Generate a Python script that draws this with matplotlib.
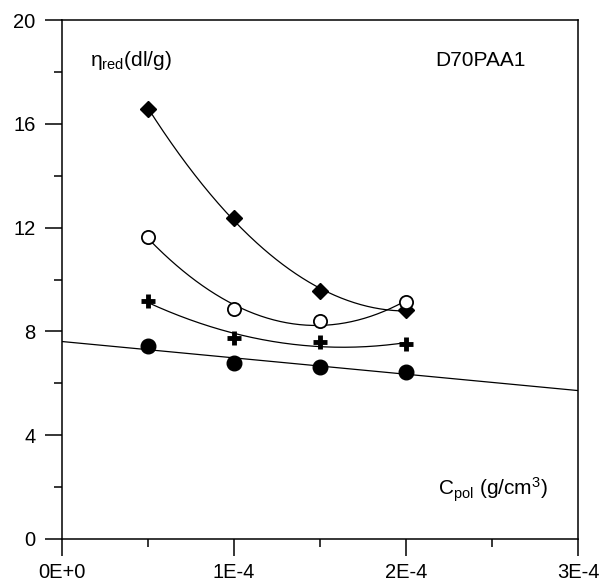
import numpy as np
import matplotlib.pyplot as plt
from matplotlib.ticker import MultipleLocator, FixedLocator

plt.rcParams['font.family'] = ['Liberation Sans', 'DejaVu Sans']

# polymer concentration (g/cm3)
c_pol = np.array([0.5e-4, 1.0e-4, 1.5e-4, 2.0e-4])

# reduced viscosity (dl/g) for the four series
eta_diamond = np.array([16.57, 12.37, 9.56, 8.82])
eta_open = np.array([11.64, 8.86, 8.40, 9.13])
eta_plus = np.array([9.17, 7.75, 7.59, 7.51])
eta_filled = np.array([7.44, 6.78, 6.63, 6.44])

fig = plt.figure(figsize=(6.02, 5.81), dpi=100)
ax = fig.add_axes([62/602, 1-539/581, (578-62)/602, (539-20)/581])

# smooth curves through the upper three series
xs = np.linspace(c_pol[0], c_pol[-1], 200)
for y in (eta_diamond, eta_open, eta_plus):
    p = np.polyfit(c_pol * 1e4, y, 2)
    ax.plot(xs, np.polyval(p, xs * 1e4), color='black', lw=0.9, zorder=2)

# linear fit of the lowest series, extended over whole axis
p = np.polyfit(c_pol * 1e4, eta_filled, 1)
xl = np.array([0, 3e-4])
ax.plot(xl, np.polyval(p, xl * 1e4), color='black', lw=0.9, zorder=2)

ax.plot(c_pol, eta_diamond, 'D', color='black', ms=8.5, zorder=3)
ax.plot(c_pol, eta_open, 'o', mfc='white', mec='black', mew=1.3, ms=9.5, zorder=3)
ax.plot(c_pol, eta_plus, '+', color='black', mew=3.5, ms=10, zorder=3)
ax.plot(c_pol, eta_filled, 'o', color='black', ms=10.5, zorder=3)

ax.set_xlim(0, 3e-4)
ax.set_ylim(0, 20)
ax.xaxis.set_major_locator(FixedLocator([0, 1e-4, 2e-4, 3e-4]))
ax.xaxis.set_minor_locator(FixedLocator([0.5e-4, 1.5e-4, 2.5e-4]))
ax.set_xticklabels(['0E+0', '1E-4', '2E-4', '3E-4'])
ax.yaxis.set_major_locator(MultipleLocator(4))
ax.yaxis.set_minor_locator(MultipleLocator(2))

ax.tick_params(which='major', direction='out', length=12, width=1.1, labelsize=14.5)
ax.tick_params(axis='y', which='major', pad=7)
ax.tick_params(axis='x', which='major', pad=5)
ax.tick_params(which='minor', direction='out', length=6, width=1.1)
ax.tick_params(top=False, right=False, which='both')
for s in ax.spines.values():
    s.set_linewidth(1.1)

ax.text((90-62)/516, (539-60)/519, r'$\mathregular{\eta_{red}}$(dl/g)', transform=ax.transAxes,
        fontsize=15, va='center', ha='left')
ax.text((435-62)/516, (539-60)/519, 'D70PAA1', transform=ax.transAxes,
        fontsize=15, va='center', ha='left')
ax.text((438-62)/516, (539-490)/519, r'C$\mathregular{_{pol}}$ (g/cm$\mathregular{^3}$)', transform=ax.transAxes,
        fontsize=15, va='center', ha='left')

fig.savefig('out.png', dpi=100)
